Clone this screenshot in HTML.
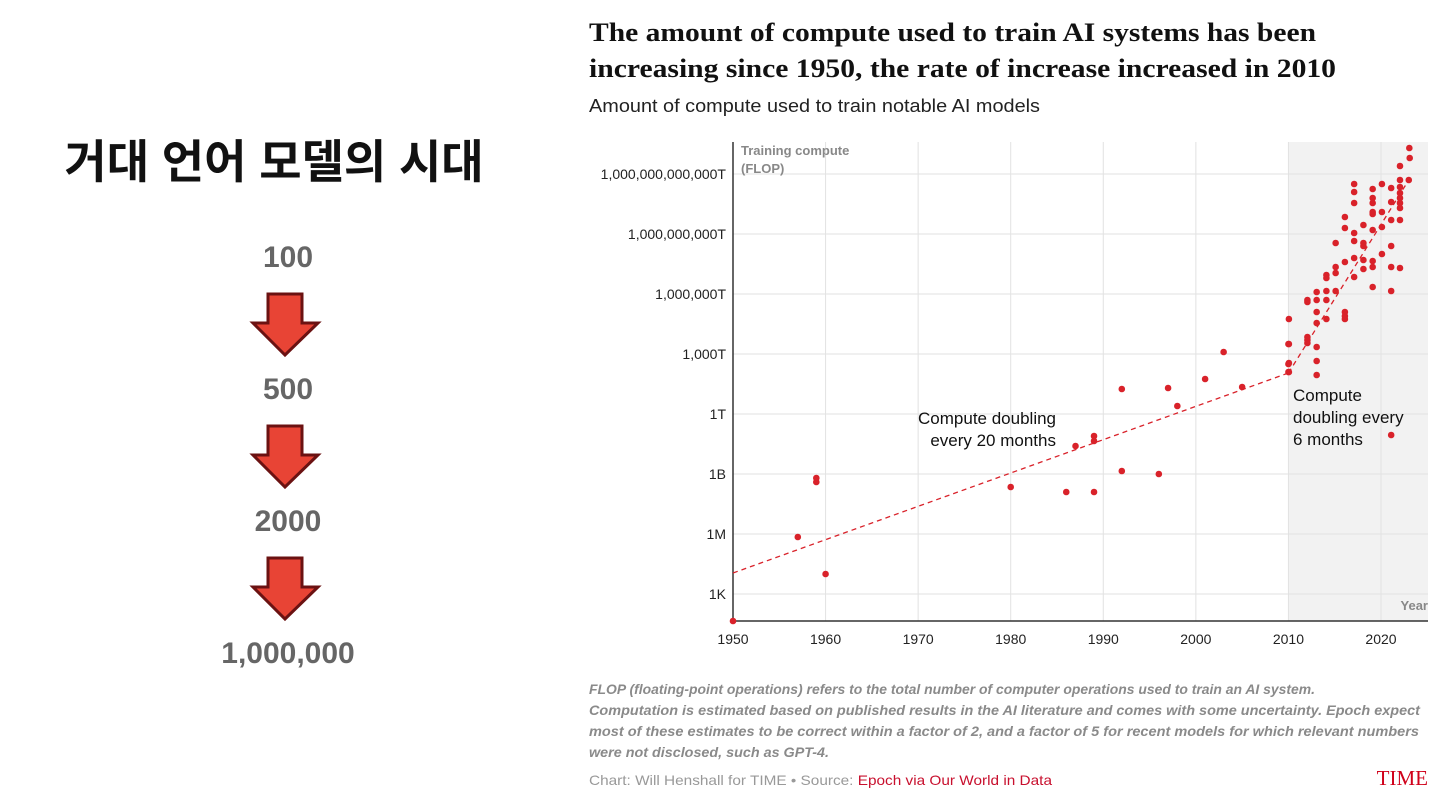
<!DOCTYPE html>
<html><head><meta charset="utf-8">
<style>
html,body{margin:0;padding:0;background:#fff;}
svg{display:block;}
</style></head>
<body>
<svg id="root" width="1440" height="810" viewBox="0 0 1440 810" xmlns="http://www.w3.org/2000/svg">
  <text x="274" y="178" text-anchor="middle" font-family="'Liberation Sans','Noto Sans CJK KR',sans-serif" font-weight="bold" font-size="46" fill="#111">거대 언어 모델의 시대</text>
  <g font-family="'Liberation Sans',sans-serif" font-weight="bold" font-size="30" fill="#666" text-anchor="middle">
    <text x="288" y="267">100</text>
    <text x="288" y="399">500</text>
    <text x="288" y="531">2000</text>
    <text x="288" y="663">1,000,000</text>
  </g>
  <g fill="#e84435" stroke="#6b1212" stroke-width="3" stroke-linejoin="miter">
    <path d="M268,294 H302 V323 H318 L285,355 L253,323 H268 Z"/>
    <path d="M268,426 H302 V455 H318 L285,487 L253,455 H268 Z"/>
    <path d="M268,558 H302 V587 H318 L285,619 L253,587 H268 Z"/>
  </g>
  <g font-family="'Liberation Serif',serif" font-weight="bold" font-size="26" fill="#111">
    <text x="589" y="41" textLength="727" lengthAdjust="spacingAndGlyphs">The amount of compute used to train AI systems has been</text>
    <text x="589" y="77" textLength="747" lengthAdjust="spacingAndGlyphs">increasing since 1950, the rate of increase increased in 2010</text>
  </g>
  <text x="589" y="112" font-family="'Liberation Sans',sans-serif" font-size="18" fill="#222" textLength="451" lengthAdjust="spacingAndGlyphs">Amount of compute used to train notable AI models</text>
  <g id="chart"></g>
  <g font-family="'Liberation Sans',sans-serif" font-style="italic" font-weight="bold" font-size="14" fill="#8a8a8a">
    <text x="589" y="694" textLength="726" lengthAdjust="spacingAndGlyphs">FLOP (floating-point operations) refers to the total number of computer operations used to train an AI system.</text>
    <text x="589" y="715" textLength="831" lengthAdjust="spacingAndGlyphs">Computation is estimated based on published results in the AI literature and comes with some uncertainty. Epoch expect</text>
    <text x="589" y="736" textLength="830" lengthAdjust="spacingAndGlyphs">most of these estimates to be correct within a factor of 2, and a factor of 5 for recent models for which relevant numbers</text>
    <text x="589" y="757" textLength="240" lengthAdjust="spacingAndGlyphs">were not disclosed, such as GPT-4.</text>
  </g>
  <text x="589" y="785" font-family="'Liberation Sans',sans-serif" font-size="14" fill="#999" textLength="463" lengthAdjust="spacingAndGlyphs">Chart: Will Henshall for TIME • Source: <tspan fill="#c8102e">Epoch via Our World in Data</tspan></text>
  <text x="1428" y="785" text-anchor="end" font-family="'Liberation Serif',serif" font-size="21" fill="#d0021b">TIME</text>
</svg>
<script>
const xTicks = [1950,1960,1970,1980,1990,2000,2010,2020];
const yTickExp = [3,6,9,12,15,18,21,24];
const yTickLabels = ["1K","1M","1B","1T","1,000T","1,000,000T","1,000,000,000T","1,000,000,000,000T"];
const yearsEarly = [1950,1957,1959,1959,1960,1980,1986,1987,1989,1989,1989,1992,1992,1996,1997,1998,2001,2003,2005,2010,2010,2010];
const logFlopEarly = [1.65,5.85,8.8,8.6,4.0,8.35,8.1,10.4,10.9,10.65,8.1,13.25,9.15,9.0,13.3,12.4,13.75,15.1,13.35,15.5,14.5,14.1];
const yearsModern = [2023.06,2023.1,2023,2022.05,2022.05,2022.05,2022.05,2022.05,2022.05,2022.05,2022.05,2022.05,
 2021.1,2021.1,2021.1,2021.1,2021.1,2021.1,2020.1,2020.1,2020.1,2020.1,
 2019.1,2019.1,2019.1,2019.1,2019.1,2019.1,2019.1,2019.1,2019.1,
 2018.1,2018.1,2018.1,2018.1,2018.1,
 2017.1,2017.1,2017.1,2017.1,2017.1,2017.1,2017.1,
 2016.1,2016.1,2016.1,2016.1,2016.1,2016.1,
 2015.1,2015.1,2015.1,2015.1,
 2014.1,2014.1,2014.1,2014.1,2014.1,
 2013.05,2013.05,2013.05,2013.05,2013.05,2013.05,2013.05,
 2012.05,2012.05,2012.05,2012.05,2012.05,
 2010.05,2010.05,2010.05,2010.05,2021.1];
const logFlopModern = [25.3,24.8,23.7,24.4,23.7,23.35,23.05,22.8,22.55,22.3,21.7,19.3,
 23.3,22.6,21.7,20.4,19.35,18.15,23.5,22.1,21.35,20.0,
 23.25,22.8,22.55,22.1,22.0,21.2,19.65,19.35,18.35,
 21.45,20.55,20.4,19.7,19.25,
 23.5,23.1,22.55,21.05,20.65,19.8,18.85,
 21.85,21.3,19.6,17.1,16.9,16.75,
 20.55,19.35,19.05,18.15,
 18.95,18.8,18.15,17.7,16.75,
 18.1,17.7,17.1,16.55,15.35,14.65,13.95,
 17.7,17.6,15.85,15.7,15.55,
 16.75,15.5,14.55,14.1,10.95];
const trendYears1 = [1950,2010];
const trendLog1 = [4.05,14.05];
const trendYears2 = [2010,2023];
const trendLog2 = [14.05,23.7];

const NS = "http://www.w3.org/2000/svg";
const X0 = 733, X1 = 1428, Y0 = 142, Y1 = 621;
function xs(yr){ return 733 + (yr - 1950) * (1381 - 733) / 70; }
function ys(l){ return 594 - (l - 3) * 20; }
const g = document.getElementById('chart');
function mk(tag, attrs, parent){
  const e = document.createElementNS(NS, tag);
  for (const k in attrs) e.setAttribute(k, attrs[k]);
  (parent || g).appendChild(e);
  return e;
}
const shade = mk('rect', {x: xs(2010), y: Y0, width: X1 - xs(2010), height: Y1 - Y0, fill: '#f2f2f2'});


xTicks.forEach(t => {
  const l = mk('line', {x1: xs(t), x2: xs(t), y1: Y0, y2: Y1, stroke: '#e2e2e2', 'stroke-width': 1});
  
  
  const tx = mk('text', {x: xs(t), y: 644, 'text-anchor': 'middle', 'font-family': "'Liberation Sans',sans-serif", 'font-size': 14, fill: '#222'});
  tx.textContent = t;
  
  
});
yTickExp.forEach((e, i) => {
  const l = mk('line', {x1: X0, x2: X1, y1: ys(e), y2: ys(e), stroke: '#e2e2e2', 'stroke-width': 1});
  
  
  const tx = mk('text', {x: 726, y: ys(e) + 5, 'text-anchor': 'end', 'font-family': "'Liberation Sans',sans-serif", 'font-size': 14, fill: '#222'});
  tx.textContent = yTickLabels[i];
  
  
});
const ax = mk('line', {x1: X0, x2: X0, y1: Y0, y2: Y1, stroke: '#333', 'stroke-width': 1.5});


const bx = mk('line', {x1: X0, x2: X1, y1: Y1, y2: Y1, stroke: '#333', 'stroke-width': 1.5});


const yt = mk('text', {x: 741, y: 155, 'font-family': "'Liberation Sans',sans-serif", 'font-weight': 'bold', 'font-size': 13, fill: '#888'});
yt.innerHTML = '<tspan x="741">Training compute</tspan><tspan x="741" dy="18">(FLOP)</tspan>';


const xt = mk('text', {x: 1428, y: 610, 'text-anchor': 'end', 'font-family': "'Liberation Sans',sans-serif", 'font-weight': 'bold', 'font-size': 13, fill: '#888'});
xt.textContent = 'Year';


const t1 = mk('line', {x1: xs(trendYears1[0]), y1: ys(trendLog1[0]), x2: xs(trendYears1[1]), y2: ys(trendLog1[1]), stroke: '#d9222a', 'stroke-width': 1.3, 'stroke-dasharray': '5,4'});


const t2 = mk('line', {x1: xs(trendYears2[0]), y1: ys(trendLog2[0]), x2: xs(trendYears2[1]), y2: ys(trendLog2[1]), stroke: '#d9222a', 'stroke-width': 1.3, 'stroke-dasharray': '5,4'});


function pts(yrs, vals){
  yrs.forEach((y, i) => {
    const c = mk('circle', {cx: xs(y), cy: ys(vals[i]), r: 3.3, fill: '#d9222a'});
    
    
  });
}
pts(yearsEarly, logFlopEarly);
pts(yearsModern, logFlopModern);
const a1 = mk('text', {'font-family': "'Liberation Sans',sans-serif", 'font-size': 17, fill: '#111', 'text-anchor': 'end'});
a1.innerHTML = '<tspan x="1056" y="424">Compute doubling</tspan><tspan x="1056" y="446">every  20 months</tspan>';


const a2 = mk('text', {'font-family': "'Liberation Sans',sans-serif", 'font-size': 17, fill: '#111'});
a2.innerHTML = '<tspan x="1293" y="401">Compute</tspan><tspan x="1293" y="423">doubling every</tspan><tspan x="1293" y="445">6 months</tspan>';


</script>
</body></html>
